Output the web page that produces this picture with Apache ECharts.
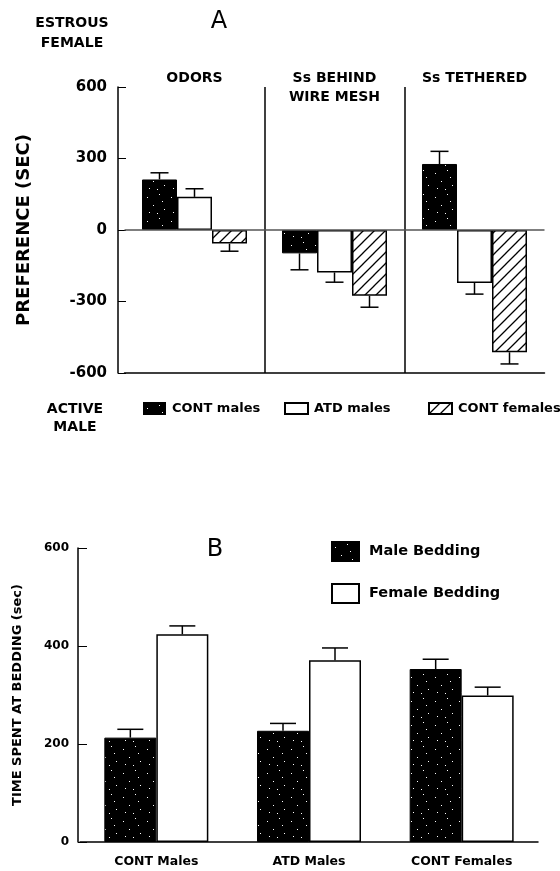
<!DOCTYPE html>
<html>
<head>
<meta charset="utf-8">
<script src="https://cdn.jsdelivr.net/npm/echarts@6/dist/echarts.min.js"></script>
<style>
html,body{margin:0;padding:0;background:#fff;}
#chart{width:560px;height:871px;}
</style>
</head>
<body>
<div id="chart"></div>
<script>
// ---------- Panel A data ----------
const groupsA = ['ODORS', 'Ss BEHIND\nWIRE MESH', 'Ss TETHERED'];
const seriesNamesA = ['CONT males', 'ATD males', 'CONT females'];
const contMalesA = [212, -98, 277];
const contMalesErrA = [28, 69, 53];
const atdMalesA = [139, -178, -222];
const atdMalesErrA = [34, 41, 47];
const contFemalesA = [-57, -276, -513];
const contFemalesErrA = [32, 48, 49];
const ticksA = [-600, -300, 0, 300, 600];

// ---------- Panel B data ----------
const groupsB = ['CONT Males', 'ATD Males', 'CONT Females'];
const seriesNamesB = ['Male Bedding', 'Female Bedding'];
const maleBeddingB = [213, 227, 353];
const maleBeddingErrB = [17, 15, 20];
const femaleBeddingB = [424, 371, 299];
const femaleBeddingErrB = [17, 25, 17];
const ticksB = [0, 200, 400, 600];

// ---------- styling constants ----------
const BAR_A = 35, BAR_B = 52, CAP_A = 18, CAP_B = 26;
const FONT = 'DejaVu Sans';

function stipple() {
  const c = document.createElement('canvas');
  c.width = 24; c.height = 24;
  const g = c.getContext('2d');
  g.fillStyle = '#000'; g.fillRect(0, 0, 24, 24);
  g.fillStyle = '#fff';
  [[3,5],[15,2],[9,13],[20,17],[5,20],[13,21],[18,9]].forEach(p => g.fillRect(p[0], p[1], 1, 1));
  return c;
}
function hatch() {
  const s = 11;
  const c = document.createElement('canvas');
  c.width = s; c.height = s;
  const g = c.getContext('2d');
  g.fillStyle = '#fff'; g.fillRect(0, 0, s, s);
  g.strokeStyle = '#000'; g.lineWidth = 1.3;
  g.beginPath();
  g.moveTo(-1, s + 1); g.lineTo(s + 1, -1);
  g.moveTo(-2, 2); g.lineTo(2, -2);
  g.moveTo(s - 2, s + 2); g.lineTo(s + 2, s - 2);
  g.stroke();
  return c;
}
const blackFill = { image: stipple(), repeat: 'repeat' };
const hatchFill = { image: hatch(), repeat: 'repeat' };

function errData(vals, errs, s) {
  return vals.map((v, i) => [i, v, errs[i], s]);
}
function errRenderer(barW, cap, n) {
  return function (params, api) {
    const cat = api.value(0), v = api.value(1), e = api.value(2), s = api.value(3);
    const base = api.coord([cat, v]);
    const end = api.coord([cat, v >= 0 ? v + e : v - e]);
    const x = base[0] + (s - (n - 1) / 2) * barW;
    const st = { stroke: '#000', lineWidth: 1.5 };
    return {
      type: 'group',
      children: [
        { type: 'line', shape: { x1: x, y1: base[1], x2: x, y2: end[1] }, style: st },
        { type: 'line', shape: { x1: x - cap / 2, y1: end[1], x2: x + cap / 2, y2: end[1] }, style: st }
      ]
    };
  };
}

const bold = { fontFamily: FONT, fontWeight: 'bold', color: '#000' };

const chart = echarts.init(document.getElementById('chart'), null, { renderer: 'canvas' });
const option = {
  animation: false,
  backgroundColor: '#fff',
  textStyle: { fontFamily: FONT },
  grid: [
    { left: 124.5, width: 420, top: 87, height: 286 },
    { left: 80, width: 458, top: 548, height: 294 }
  ],
  xAxis: [
    { gridIndex: 0, type: 'category', data: groupsA, position: 'bottom',
      axisLine: { onZero: false, lineStyle: { color: '#000', width: 1.5 } },
      axisTick: { show: false }, axisLabel: { show: false }, splitLine: { show: false } },
    { gridIndex: 0, type: 'category', data: groupsA, position: 'top',
      axisLine: { show: false }, axisTick: { show: false },
      axisLabel: Object.assign({ fontSize: 14, verticalAlign: 'top', margin: 18, lineHeight: 19, interval: 0 }, bold),
      splitLine: { show: true, showMinLine: false, showMaxLine: false, lineStyle: { color: '#000', width: 1.5 } } },
    { gridIndex: 1, type: 'category', data: groupsB,
      axisLine: { lineStyle: { color: '#000', width: 1.5 } }, axisTick: { show: false },
      axisLabel: Object.assign({ fontSize: 12.5, margin: 13, interval: 0 }, bold), splitLine: { show: false } }
  ],
  yAxis: [
    { gridIndex: 0, type: 'value', min: ticksA[0], max: ticksA[ticksA.length - 1], interval: 300, offset: 6.5,
      axisLine: { show: true, lineStyle: { color: '#000', width: 1.5 } },
      axisTick: { show: true, inside: true, length: 8, lineStyle: { color: '#000', width: 1 } },
      axisLabel: Object.assign({ fontSize: 15, margin: 11 }, bold),
      splitLine: { show: false },
      name: 'PREFERENCE (SEC)', nameLocation: 'middle', nameGap: 85, nameRotate: 90,
      nameTextStyle: Object.assign({ fontSize: 18 }, bold) },
    { gridIndex: 1, type: 'value', min: ticksB[0], max: ticksB[ticksB.length - 1], interval: 200, offset: 2,
      axisLine: { show: true, lineStyle: { color: '#000', width: 1.5 } },
      axisTick: { show: true, inside: true, length: 9, lineStyle: { color: '#000', width: 1 } },
      axisLabel: Object.assign({ fontSize: 12, margin: 9 }, bold),
      splitLine: { show: false },
      name: 'TIME SPENT AT BEDDING (sec)', nameLocation: 'middle', nameGap: 54, nameRotate: 90,
      nameTextStyle: Object.assign({ fontSize: 13 }, bold) }
  ],
  legend: [
    { data: [seriesNamesA[0]], left: 143, top: 402, padding: 0, icon: 'rect', itemWidth: 21, itemHeight: 11,
      textStyle: Object.assign({ fontSize: 13, padding: [0, 0, 0, 2] }, bold), selectedMode: false },
    { data: [seriesNamesA[1]], left: 284, top: 402, padding: 0, icon: 'rect', itemWidth: 23, itemHeight: 11,
      textStyle: Object.assign({ fontSize: 13, padding: [0, 0, 0, 1] }, bold), selectedMode: false },
    { data: [seriesNamesA[2]], left: 428, top: 402, padding: 0, icon: 'rect', itemWidth: 23, itemHeight: 11,
      textStyle: Object.assign({ fontSize: 13, padding: [0, 0, 0, 1] }, bold), selectedMode: false },
    { data: seriesNamesB, left: 331, top: 541, padding: 0, orient: 'vertical', icon: 'rect', itemWidth: 27, itemHeight: 19,
      itemGap: 21, textStyle: Object.assign({ fontSize: 14.5, padding: [0, 0, 0, 5] }, bold), selectedMode: false }
  ],
  graphic: [
    { type: 'text', x: 72, y: 13, style: { text: 'ESTROUS\nFEMALE', font: 'bold 14px "DejaVu Sans"', fill: '#000', align: 'center', verticalAlign: 'top', lineHeight: 20 } },
    { type: 'text', x: 219, y: 22, style: { text: 'A', font: '24px "DejaVu Sans"', fill: '#000', align: 'center', verticalAlign: 'middle' } },
    { type: 'text', x: 75, y: 400, style: { text: 'ACTIVE\nMALE', font: 'bold 14px "DejaVu Sans"', fill: '#000', align: 'center', verticalAlign: 'top', lineHeight: 18 } },
    { type: 'text', x: 215, y: 550, style: { text: 'B', font: '24px "DejaVu Sans"', fill: '#000', align: 'center', verticalAlign: 'middle' } }
  ],
  series: [
    { name: seriesNamesA[0], type: 'bar', xAxisIndex: 0, yAxisIndex: 0, data: contMalesA, barWidth: BAR_A, barGap: '0%',
      itemStyle: { color: blackFill, borderColor: '#000', borderWidth: 1 },
      markLine: { silent: true, symbol: ['none', 'none'], label: { show: false },
        lineStyle: { color: '#555', width: 1.5, type: 'solid' }, data: [{ yAxis: 0 }] } },
    { name: seriesNamesA[1], type: 'bar', xAxisIndex: 0, yAxisIndex: 0, data: atdMalesA, barWidth: BAR_A, barGap: '0%',
      itemStyle: { color: '#fff', borderColor: '#000', borderWidth: 1.5 } },
    { name: seriesNamesA[2], type: 'bar', xAxisIndex: 0, yAxisIndex: 0, data: contFemalesA, barWidth: BAR_A, barGap: '0%',
      itemStyle: { color: hatchFill, borderColor: '#000', borderWidth: 1.5 } },
    { type: 'custom', xAxisIndex: 0, yAxisIndex: 0, z: 5, silent: true,
      renderItem: errRenderer(BAR_A, CAP_A, 3), encode: { x: 0, y: 1 },
      data: errData(contMalesA, contMalesErrA, 0).concat(errData(atdMalesA, atdMalesErrA, 1), errData(contFemalesA, contFemalesErrA, 2)) },
    { name: seriesNamesB[0], type: 'bar', xAxisIndex: 2, yAxisIndex: 1, data: maleBeddingB, barWidth: BAR_B, barGap: '0%',
      itemStyle: { color: blackFill, borderColor: '#000', borderWidth: 1 } },
    { name: seriesNamesB[1], type: 'bar', xAxisIndex: 2, yAxisIndex: 1, data: femaleBeddingB, barWidth: BAR_B, barGap: '0%',
      itemStyle: { color: '#fff', borderColor: '#000', borderWidth: 1.5 } },
    { type: 'custom', xAxisIndex: 2, yAxisIndex: 1, z: 5, silent: true,
      renderItem: errRenderer(BAR_B, CAP_B, 2), encode: { x: 0, y: 1 },
      data: errData(maleBeddingB, maleBeddingErrB, 0).concat(errData(femaleBeddingB, femaleBeddingErrB, 1)) }
  ]
};
chart.setOption(option);
</script>
</body>
</html>
